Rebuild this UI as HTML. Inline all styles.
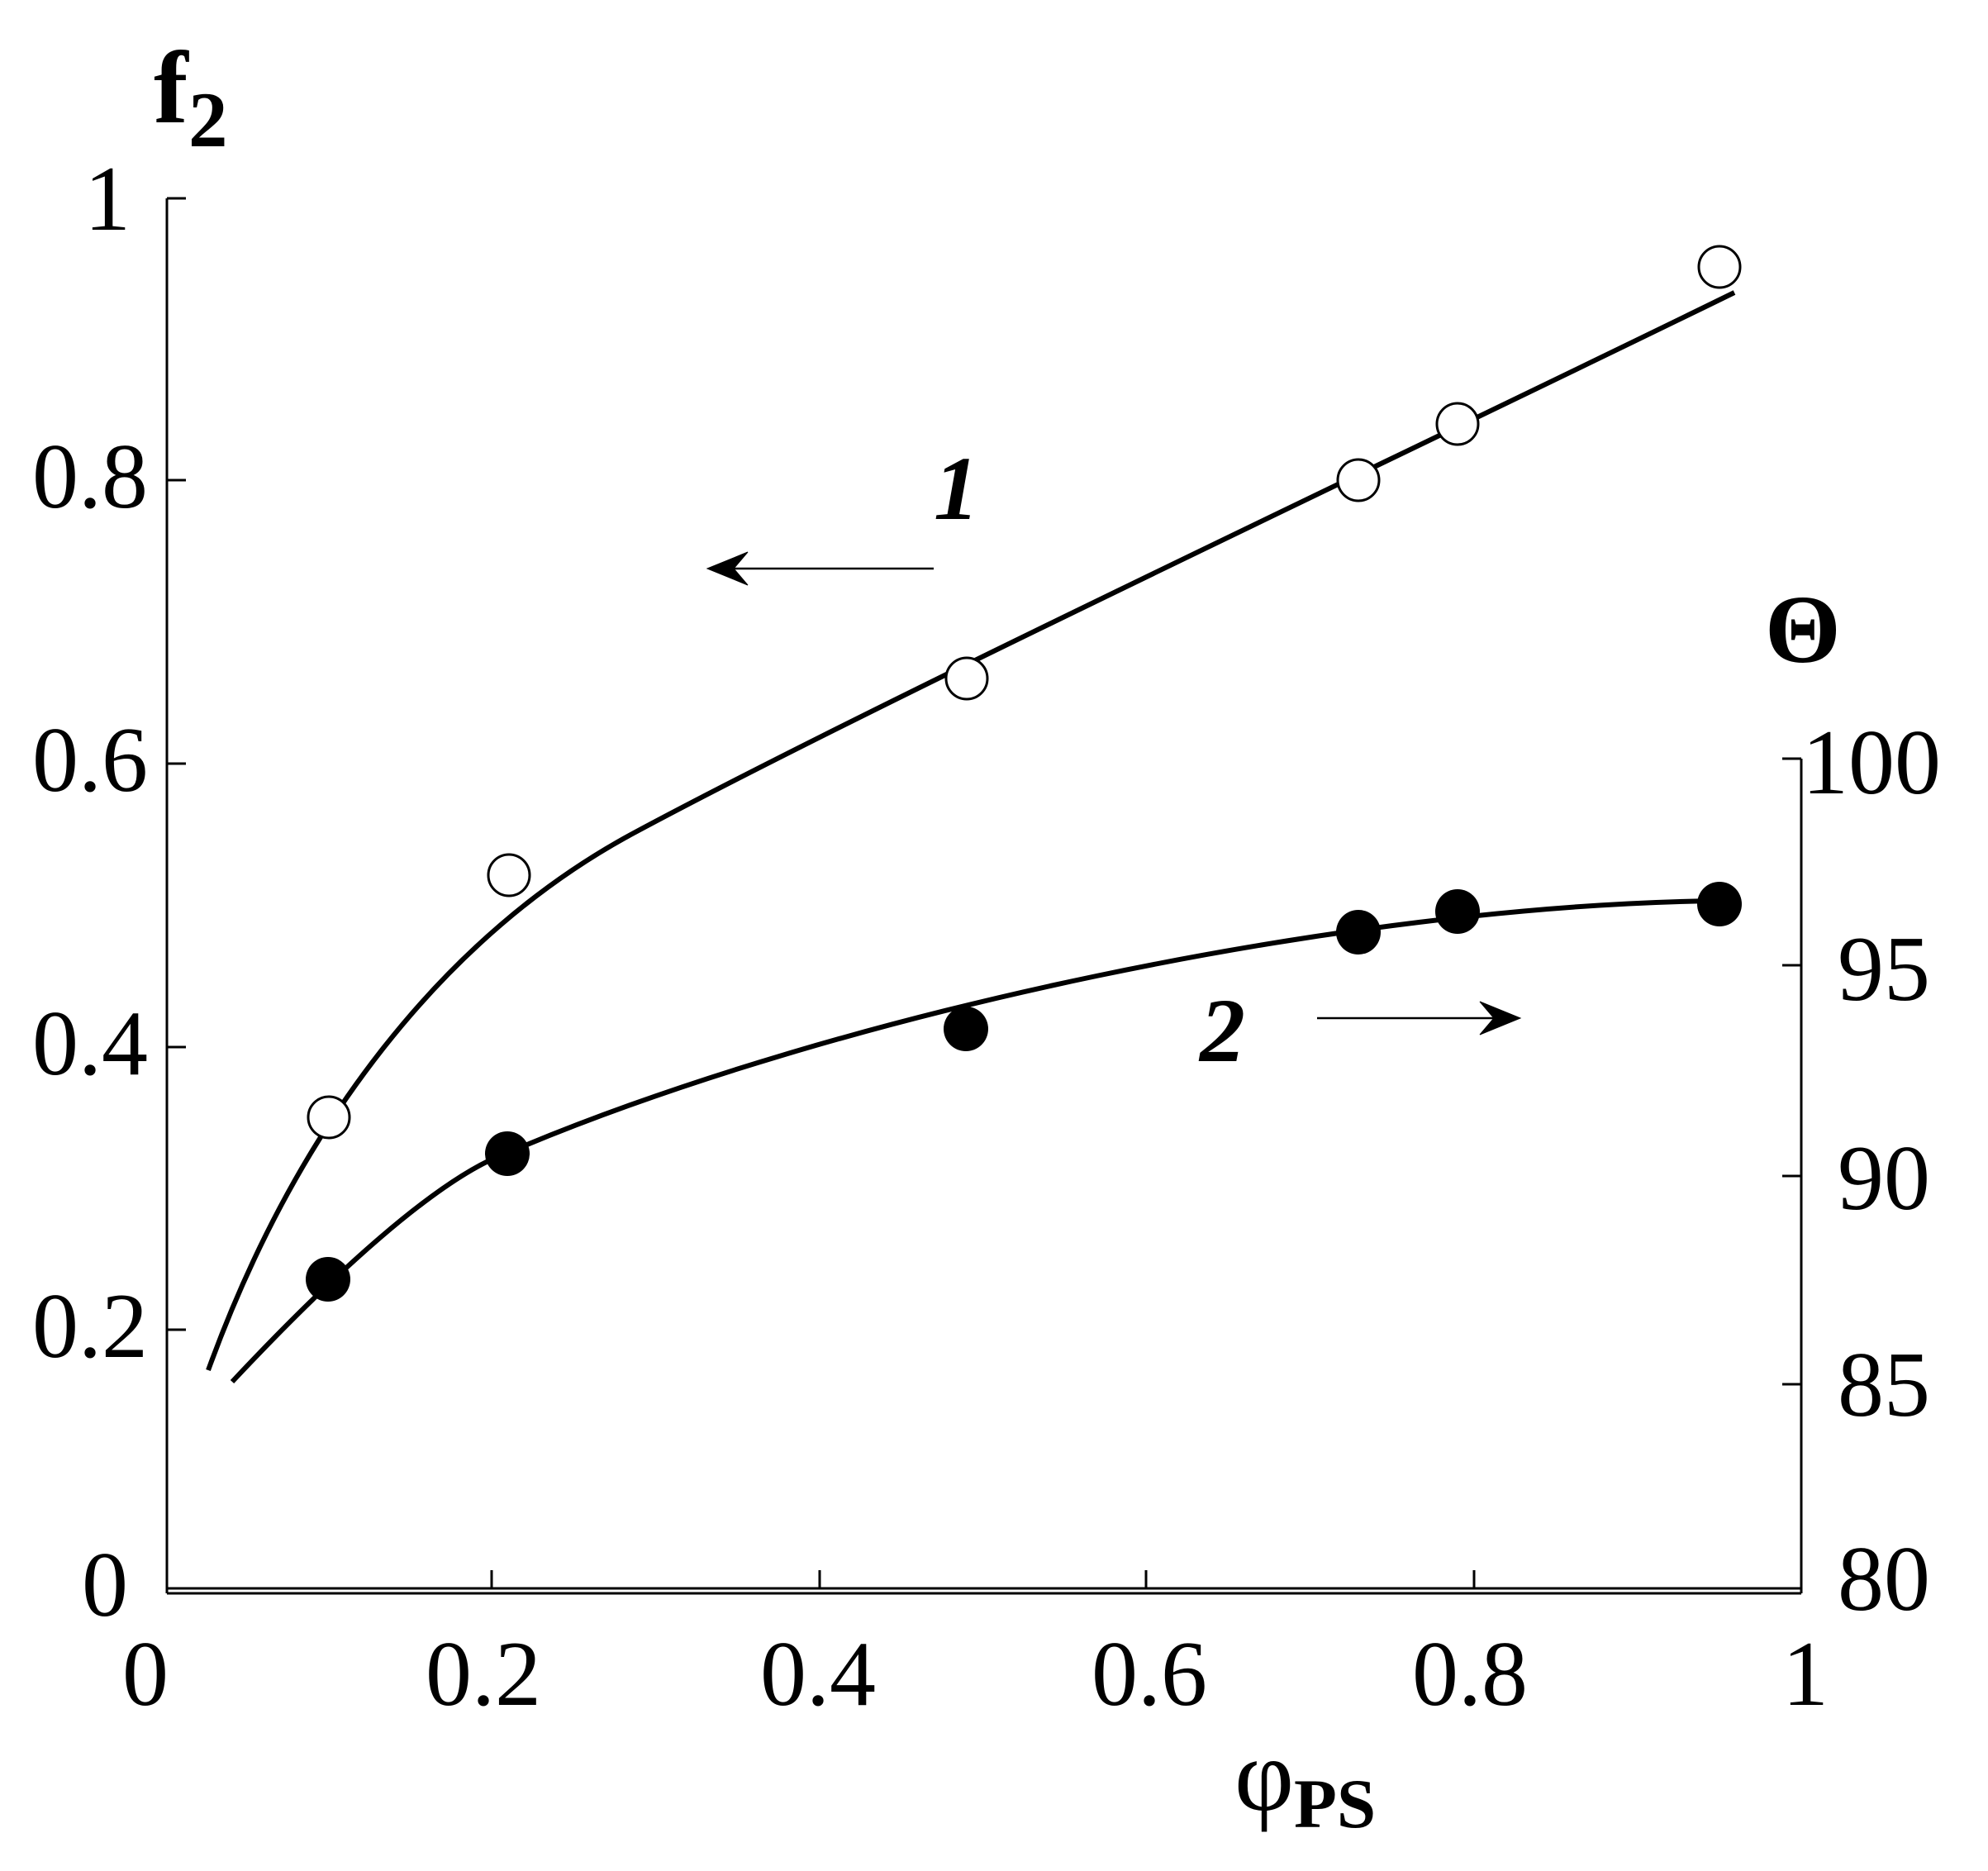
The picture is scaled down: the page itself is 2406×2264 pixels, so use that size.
<!DOCTYPE html>
<html><head><meta charset="utf-8"><style>
html,body{margin:0;padding:0;background:#fff;}
svg{display:block;}
text{font-family:"Liberation Serif","Times New Roman",serif;fill:#000;}
</style></head><body>
<svg width="2406" height="2264" viewBox="0 0 2406 2264" xmlns="http://www.w3.org/2000/svg">
<g stroke="#000" fill="none" stroke-width="3">
<line x1="202" y1="240" x2="202" y2="1928"/>
<line x1="202" y1="1922" x2="2180" y2="1922"/>
<line x1="202" y1="1928" x2="2180" y2="1928"/>
<line x1="2180" y1="918" x2="2180" y2="1928"/>
<line x1="202" y1="240" x2="225" y2="240"/>
<line x1="202" y1="581" x2="225" y2="581"/>
<line x1="202" y1="924" x2="225" y2="924"/>
<line x1="202" y1="1267" x2="225" y2="1267"/>
<line x1="202" y1="1609" x2="225" y2="1609"/>
<line x1="2157" y1="918" x2="2180" y2="918"/>
<line x1="2157" y1="1168" x2="2180" y2="1168"/>
<line x1="2157" y1="1423" x2="2180" y2="1423"/>
<line x1="2157" y1="1675" x2="2180" y2="1675"/>
<line x1="595" y1="1900" x2="595" y2="1922"/>
<line x1="992" y1="1900" x2="992" y2="1922"/>
<line x1="1387" y1="1900" x2="1387" y2="1922"/>
<line x1="1784" y1="1900" x2="1784" y2="1922"/>
</g>
<g font-size="112">
<text x="158" y="278" text-anchor="end">1</text>
<text x="179" y="614" text-anchor="end">0.8</text>
<text x="179" y="957" text-anchor="end">0.6</text>
<text x="179" y="1300" text-anchor="end">0.4</text>
<text x="179" y="1642" text-anchor="end">0.2</text>
<text x="155" y="1955" text-anchor="end">0</text>
<text x="176" y="2063" text-anchor="middle">0</text>
<text x="585" y="2063" text-anchor="middle">0.2</text>
<text x="990" y="2063" text-anchor="middle">0.4</text>
<text x="1391" y="2063" text-anchor="middle">0.6</text>
<text x="1779" y="2063" text-anchor="middle">0.8</text>
<text x="2185" y="2063" text-anchor="middle">1</text>
<text x="2181" y="960">100</text>
<text x="2224" y="1210">95</text>
<text x="2224" y="1463">90</text>
<text x="2224" y="1713">85</text>
<text x="2224" y="1948">80</text>
</g>
<text x="186" y="148" font-size="125" font-weight="bold">f</text>
<text x="228" y="177" font-size="95" font-weight="bold">2</text>
<text x="2136" y="801" font-size="118" font-weight="bold">Θ</text>
<text x="1494" y="2190" font-size="125">φ</text>
<text x="1566" y="2211" font-size="85" font-weight="bold">PS</text>
<text x="1130" y="628" font-size="110" font-weight="bold" font-style="italic">1</text>
<text x="1452" y="1284" font-size="110" font-weight="bold" font-style="italic">2</text>
<g stroke="#000" stroke-width="2.5" fill="#000">
<line x1="1130" y1="688" x2="870" y2="688"/>
<path d="M856,688 L905,668 L888,688 L905,708 Z" stroke-width="1"/>
<line x1="1594" y1="1232" x2="1826" y2="1232"/>
<path d="M1840,1232 L1791,1212 L1808,1232 L1791,1252 Z" stroke-width="1"/>
</g>
<g stroke="#000" stroke-width="6" fill="none">
<path d="M252,1658 C360,1360 540,1130 767,1008 C1067,847 1699,550 2099,354"/>
<path d="M281,1672 C400,1545 530,1425 614,1395 C1014,1225 1631,1095 2081,1090"/>
</g>
<g stroke="#000" stroke-width="3" fill="#fff">
<circle cx="398" cy="1352" r="25"/>
<circle cx="616" cy="1059" r="25"/>
<circle cx="1170" cy="821" r="25"/>
<circle cx="1644" cy="581" r="25"/>
<circle cx="1764" cy="513" r="25"/>
<circle cx="2081" cy="323" r="25"/>
</g>
<g fill="#000">
<circle cx="397" cy="1548" r="27"/>
<circle cx="614" cy="1396" r="27"/>
<circle cx="1169" cy="1245" r="27"/>
<circle cx="1644" cy="1128" r="27"/>
<circle cx="1764" cy="1103" r="27"/>
<circle cx="2081" cy="1094" r="27"/>
</g>
</svg>
</body></html>
